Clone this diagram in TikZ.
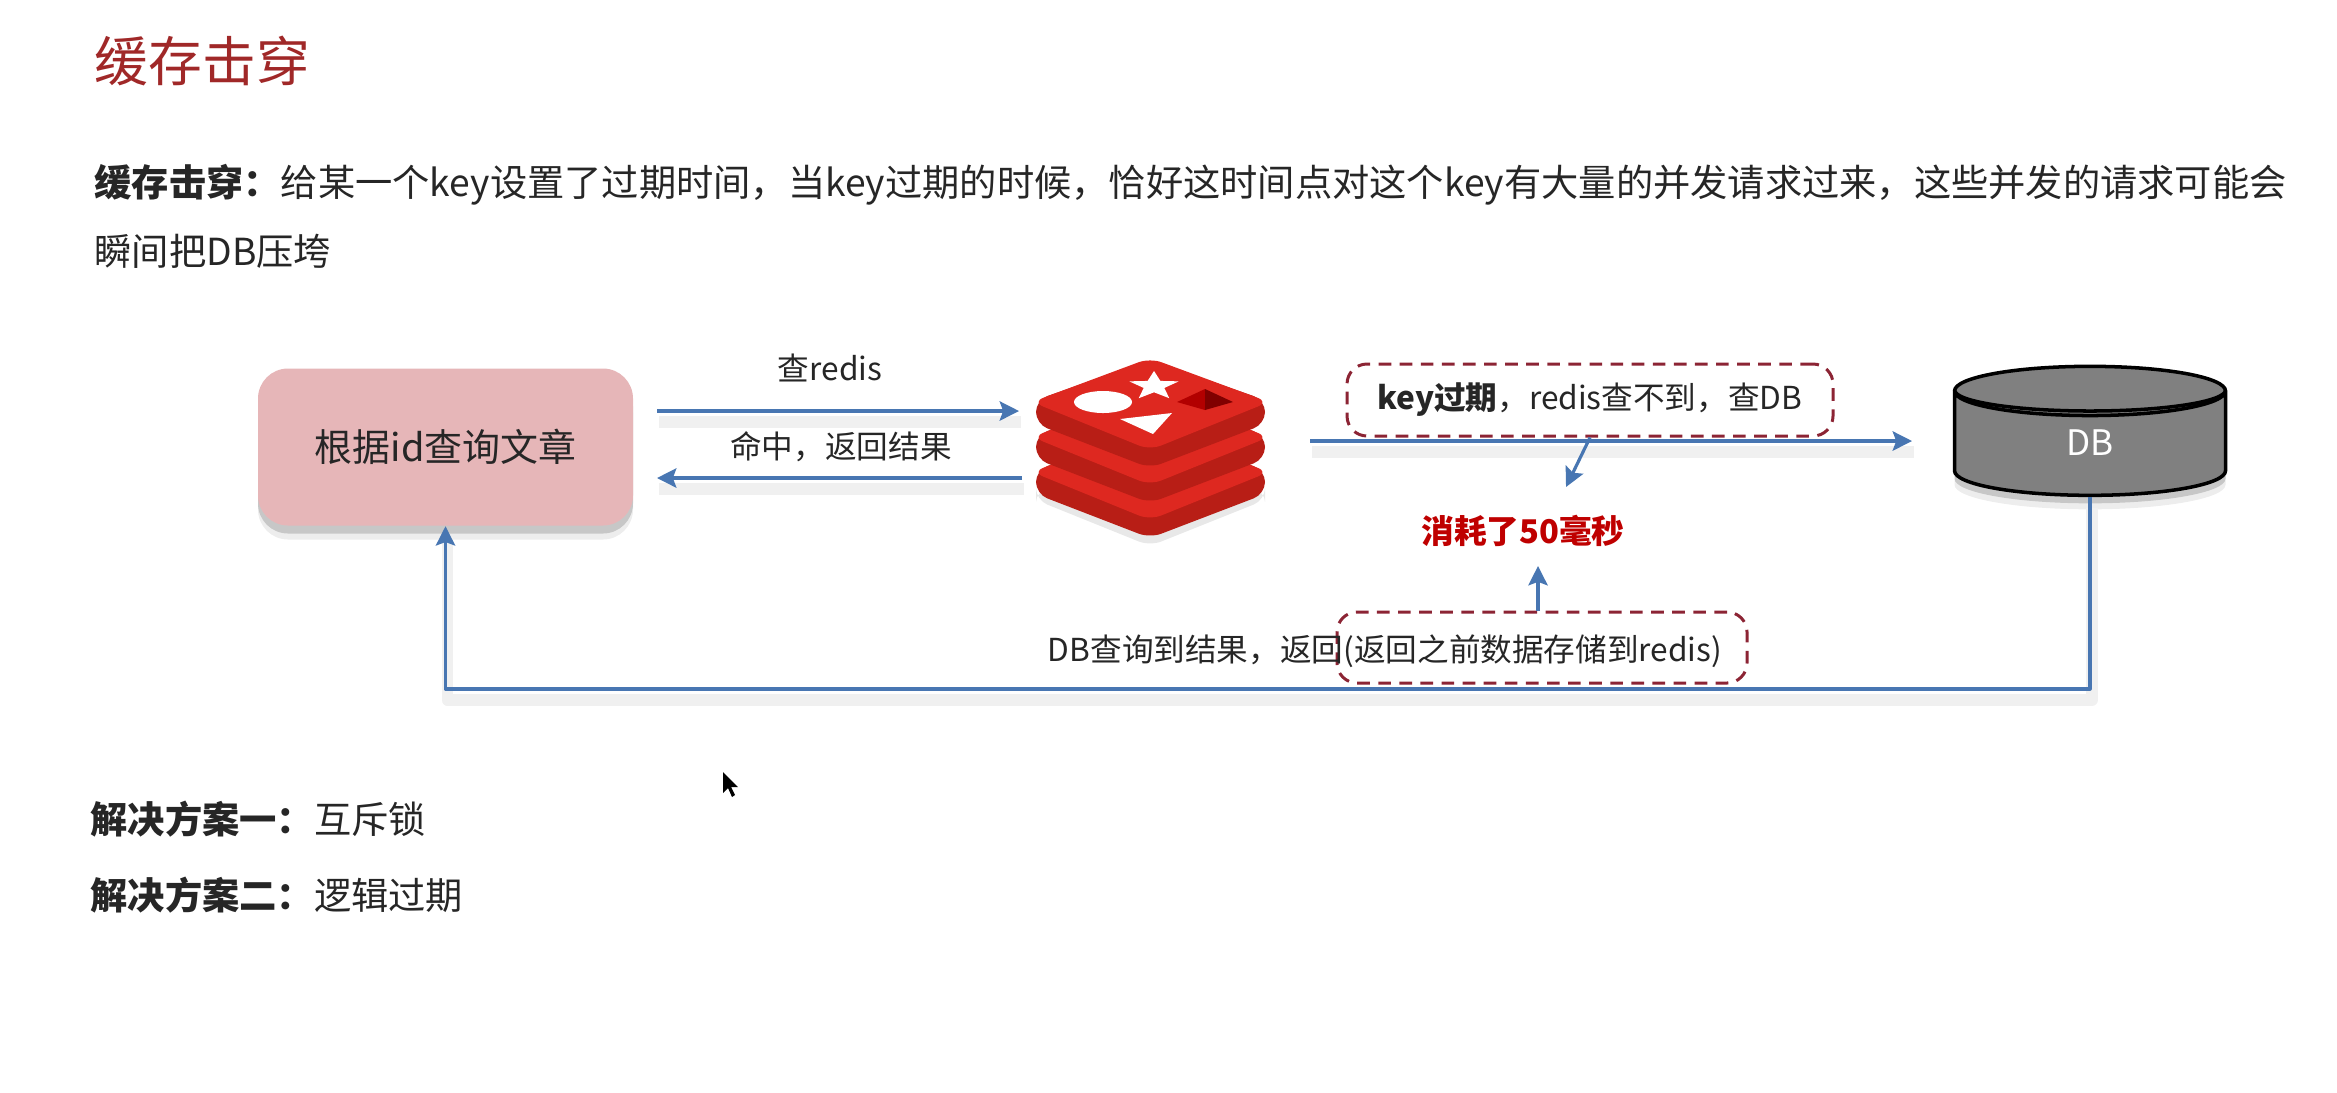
\documentclass[tikz,border=0pt]{standalone}
\usepackage{fontspec}
\setmainfont{Noto Sans CJK SC}
\usetikzlibrary{shapes.geometric, arrows.meta, calc, shadows}
\definecolor{cFlow}{RGB}{72,118,178}
\definecolor{cDash}{RGB}{140,36,52}
\definecolor{cTitle}{RGB}{160,40,40}
\definecolor{cText}{RGB}{38,38,38}
\definecolor{cRedTop}{RGB}{222,40,32}
\definecolor{cRedSide}{RGB}{184,30,22}
\definecolor{cPink}{RGB}{230,182,184}

\begin{document}
\begin{tikzpicture}[x=0.1mm, y=-0.1mm, line join=round,
                    softshadow/.style={general shadow={shadow xshift=0mm, shadow yshift=-1.4mm, opacity=.07, fill=black},
                                       general shadow={shadow xshift=0mm, shadow yshift=-0.8mm, opacity=.16, fill=black}},
                    flow/.style={draw=cFlow, line width=0.9pt, -{Stealth[length=5.5pt, width=5.5pt, inset=1pt]},
                                 preaction={draw=black!6, line width=3.4pt, -{}, transform canvas={shift={(0.2mm,-1.1mm)}}}},
                    plainflow/.style={draw=cFlow, line width=0.9pt, -{Stealth[length=5.5pt, width=5.5pt, inset=1pt]}},
                    dashbox/.style={draw=cDash, dash pattern=on 3.6pt off 2.4pt, line width=0.85pt, rounded corners=2mm, inner sep=0pt},
                    label/.style={text=cText, font=\fontsize{9}{11}\selectfont, inner sep=0pt},
                    body/.style={text=cText, font=\fontsize{10.6}{13}\selectfont, anchor=west, inner sep=0pt}]
    \useasboundingbox (0,0) rectangle (2337,1092);

    % Heading and Text Lines
    \node[anchor=west, inner sep=0pt, text=cTitle, font=\fontsize{15.3}{18}\selectfont] (title) at (94,61) {缓存击穿};
    \node[body] (line1) at (94,185) {\textbf{缓存击穿^^^^ff1a}给某一个key设置了过期时间^^^^ff0c当key过期的时候^^^^ff0c恰好这时间点对这个key有大量的并发请求过来^^^^ff0c这些并发的请求可能会};
    \node[body] (line2) at (94,251) {瞬间把DB压垮};
    \node[body] (plan1) at (90,819) {\textbf{解决方案一^^^^ff1a}互斥锁};
    \node[body] (plan2) at (90,895) {\textbf{解决方案二^^^^ff1a}逻辑过期};

    % Node Placements
    \node[minimum width=37.5mm, minimum height=15.7mm, rounded corners=3mm, fill=cPink, softshadow,
          text=black!85, font=\fontsize{10.8}{13}\selectfont] (article) at (445.5,447) {根据id查询文章};
    \node[cylinder, shape border rotate=90, aspect=2.1, draw=black, line width=1pt, fill=black!50, minimum width=27.1mm, minimum height=12.9mm,
          softshadow] (db) at (2090,449) {};
    \draw[black, line width=1pt] (2225.5,390) arc (0:180:135.5 and 21);
    \node[text=white, inner sep=0pt, font=\fontsize{10}{12}\selectfont] (dbname) at (2090,443) {DB};
    \node[dashbox, minimum width=48.6mm, minimum height=7.2mm] (miss) at (1590,400) {\textcolor{cText}{\fontsize{9}{11}\selectfont\textbf{key过期}^^^^ff0credis查不到^^^^ff0c查DB}};
    \node[dashbox, minimum width=41mm, minimum height=7.1mm] (store) at (1542,647.5) {};
    \node[label] (back) at (1385,651) {DB查询到结果^^^^ff0c返回(返回之前数据存储到redis)};
    \node[text=red!75!black, inner sep=0pt, font=\bfseries\fontsize{9.3}{12}\selectfont] (cost) at (1523,531) {消耗了50毫秒};
    \node[label] (ask) at (830,368) {查redis};
    \node[label] (hit) at (841,447) {命中^^^^ff0c返回结果};

    % Redis Logo
    \fill[black!9, rounded corners=1.2mm] (1036,490) -- (1036,500) -- (1150,546) -- (1265,500) -- (1265,490) -- cycle;
    \foreach \dy in {70,35,0} {
        \fill[cRedSide, rounded corners=1.2mm] (1036,400+\dy) -- (1036,424+\dy) -- (1150,468+\dy) -- (1265,424+\dy) -- (1265,400+\dy) -- (1150,360+\dy) -- cycle;
        \fill[cRedTop, rounded corners=1.2mm] (1032,402+\dy) -- (1150,358+\dy) -- (1269,402+\dy) -- (1150,450+\dy) -- cycle;
    }
    \fill[white] (1103,402) ellipse (29 and 11);
    \node[star, star points=5, star point ratio=2.4, fill=white, inner sep=0pt, minimum size=5.2mm, yscale=.58] (logoStar) at (1154,386) {};
    \fill[white] (1120,419) -- (1172,413) -- (1153,434) -- cycle;
    \fill[red!70!black] (1177,402) -- (1205,389) -- (1205,410) -- cycle;
    \fill[red!50!black] (1205,389) -- (1233,402) -- (1205,410) -- cycle;
    \node[minimum width=22.9mm, minimum height=17.5mm] (redis) at (1150.5,449.5) {};

    % Free Ends
    \coordinate (askFrom) at (657,411);
    \coordinate (askTo) at (1019,411);
    \coordinate (hitFrom) at (1022,478);
    \coordinate (hitTo) at (657,478);
    \coordinate (dbFrom) at (1310,441);
    \coordinate (dbTo) at (1912,441);
    \coordinate (costTo) at (1566,487);
    \coordinate (costUp) at (1538,566);

    % Graph Path Operations
    \draw[flow] (askFrom) -- (askTo);
    \draw[flow] (hitFrom) -- (hitTo);
    \draw[flow] (dbFrom) -- (dbTo);
    \draw[flow] (db.south) -- (2090,689) -- (445.5,689) -- (article.south);
    \draw[plainflow] (miss.south) -- (costTo);
    \draw[plainflow] (store.north -| costUp) -- (costUp);

    % Pointer
    \fill[black] (723,772) -- (723,793) -- (728,788) -- (732,797) -- (735,795) -- (731,787) -- (738,787) -- cycle;
\end{tikzpicture}
\end{document}
